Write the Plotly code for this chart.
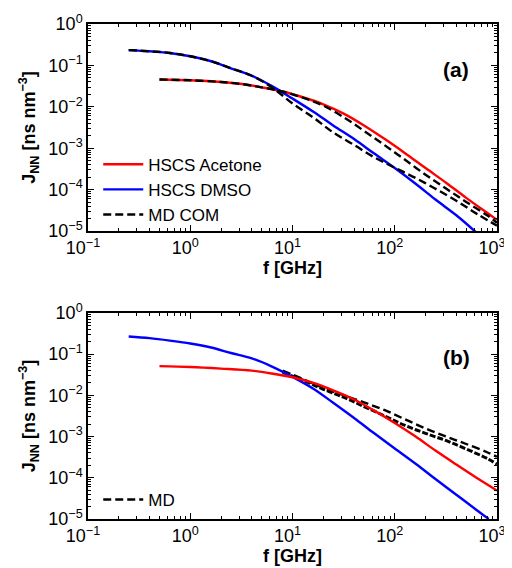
import plotly.graph_objects as go
from plotly.subplots import make_subplots

# ---------- Panel (a) ----------
f_dmso_a = [0.25, 0.4, 0.63, 1, 1.6, 2.5, 4, 6.3, 10, 16, 25, 40, 63, 100, 160, 250, 400, 630]
J_dmso_a = [0.234, 0.219, 0.200, 0.166, 0.126, 0.0851, 0.0562, 0.0316, 0.0158, 0.00759, 0.00355,
            0.00166, 0.000741, 0.000331, 0.000138, 5.75e-5, 2.40e-5, 9.1e-6]

f_acet_a = [0.5, 1, 2, 3.2, 5, 8, 12.6, 20, 32, 50, 80, 126, 200, 320, 500, 800, 1000]
J_acet_a = [0.0457, 0.0437, 0.0398, 0.0355, 0.0295, 0.0234, 0.0170, 0.0115, 0.00676, 0.00355,
            0.00166, 0.000759, 0.000331, 0.000145, 6.31e-5, 2.75e-5, 1.86e-5]

f_md_acet_a = [0.5, 1, 2, 3.2, 5, 8, 12.6, 20, 32, 50, 80, 126, 200, 320, 500, 800, 1000]
J_md_acet_a = [0.0457, 0.0437, 0.0398, 0.0355, 0.0295, 0.0234, 0.0166, 0.0107, 0.0055, 0.00263,
               0.00117, 0.000525, 0.000229, 0.000105, 5.01e-5, 2.40e-5, 1.58e-5]

f_md_dmso_a = [0.25, 0.4, 0.63, 1, 1.6, 2.5, 4, 6.3, 10, 16, 25, 40, 63, 100, 160, 250, 400, 630, 1000]
J_md_dmso_a = [0.234, 0.219, 0.200, 0.166, 0.126, 0.0851, 0.0562, 0.0295, 0.0120, 0.0055, 0.0024,
               0.0012, 0.000603, 0.000339, 0.000191, 0.000105, 5.37e-5, 2.63e-5, 1.35e-5]

# ---------- Panel (b) ----------
f_dmso_b = [0.25, 0.4, 0.63, 1, 1.6, 2.5, 4, 6.3, 10, 16, 25, 40, 63, 100, 160, 250, 400, 630, 830]
J_dmso_b = [0.269, 0.245, 0.214, 0.182, 0.145, 0.107, 0.0794, 0.0501, 0.0282, 0.0145, 0.00661,
            0.00282, 0.00120, 0.000513, 0.000219, 9.33e-5, 3.89e-5, 1.66e-5, 1.0e-5]

f_acet_b = [0.5, 1, 2, 4, 6.3, 10, 16, 25, 40, 63, 100, 160, 250, 400, 630, 1000]
J_acet_b = [0.0513, 0.049, 0.0447, 0.0398, 0.0339, 0.0275, 0.020, 0.0132, 0.00794, 0.00427,
            0.00214, 0.001, 0.000457, 0.000209, 1.0e-4, 4.9e-5]

f_md_b = [8, 12.6, 20, 32, 50, 80, 126, 200, 320, 500, 800, 1000]
J_md_upper_b = [0.0398, 0.0251, 0.0151, 0.01, 0.00676, 0.00437, 0.00263, 0.00158, 0.001,
                0.000661, 0.000417, 0.000324]
J_md_lower_b = [0.0363, 0.0234, 0.0141, 0.00891, 0.00537, 0.00316, 0.00186, 0.0012, 0.000794,
                0.000501, 0.000295, 0.000214]

x_ticks = [0.1, 1, 10, 100, 1000]
x_ticktext = ["10<sup>−1</sup>", "10<sup>0</sup>", "10<sup>1</sup>", "10<sup>2</sup>", "10<sup>3</sup>"]
y_ticks = [1e-5, 1e-4, 1e-3, 1e-2, 1e-1, 1]
y_ticktext = ["10<sup>−5</sup>", "10<sup>−4</sup>", "10<sup>−3</sup>", "10<sup>−2</sup>",
              "10<sup>−1</sup>", "10<sup>0</sup>"]
x_minor = [m * 10.0 ** e for e in range(-1, 3) for m in range(2, 10)]
y_minor = [m * 10.0 ** e for e in range(-5, 0) for m in range(2, 10)]

RED = "#ff0000"
BLUE = "#0000ff"
LW = 2.4
DASH = "8px,4px"

fig = make_subplots(rows=2, cols=1, vertical_spacing=0.1656)

# panel a
fig.add_trace(go.Scatter(x=f_acet_a, y=J_acet_a, mode="lines", line=dict(color=RED, width=LW, shape="spline"),
                         name="HSCS Acetone", legend="legend"), row=1, col=1)
fig.add_trace(go.Scatter(x=f_dmso_a, y=J_dmso_a, mode="lines", line=dict(color=BLUE, width=LW, shape="spline"),
                         name="HSCS DMSO", legend="legend"), row=1, col=1)
fig.add_trace(go.Scatter(x=f_md_acet_a, y=J_md_acet_a, mode="lines",
                         line=dict(color="black", width=LW, dash=DASH, shape="spline"),
                         name="MD COM", legend="legend"), row=1, col=1)
fig.add_trace(go.Scatter(x=f_md_dmso_a, y=J_md_dmso_a, mode="lines",
                         line=dict(color="black", width=LW, dash=DASH, shape="spline"),
                         name="MD COM", showlegend=False), row=1, col=1)

# panel b
fig.add_trace(go.Scatter(x=f_md_b, y=J_md_upper_b, mode="lines",
                         line=dict(color="black", width=LW, dash=DASH, shape="spline"),
                         name="MD", legend="legend2"), row=2, col=1)
fig.add_trace(go.Scatter(x=f_md_b, y=J_md_lower_b, mode="lines",
                         line=dict(color="black", width=LW + 0.6, dash="6px,2px", shape="spline"),
                         name="MD", showlegend=False), row=2, col=1)
fig.add_trace(go.Scatter(x=f_dmso_b, y=J_dmso_b, mode="lines", line=dict(color=BLUE, width=LW, shape="spline"),
                         name="HSCS DMSO", showlegend=False), row=2, col=1)
fig.add_trace(go.Scatter(x=f_acet_b, y=J_acet_b, mode="lines", line=dict(color=RED, width=LW, shape="spline"),
                         name="HSCS Acetone", showlegend=False), row=2, col=1)

FONT = "Liberation Sans, Arial, sans-serif"
axis_common = dict(type="log", showline=True, linecolor="black", linewidth=1.5, mirror="allticks",
                   ticks="inside", ticklen=6, tickcolor="black", showgrid=False, zeroline=False,
                   automargin=False, tickfont=dict(family=FONT, size=18, color="black"))

for r in (1, 2):
    fig.update_xaxes(axis_common, row=r, col=1, range=[-1, 3], tickvals=x_ticks, ticktext=x_ticktext,
                     ticklabelshift=-5,
                     minor=dict(tickmode="array", tickvals=x_minor, ticks="inside", ticklen=3,
                                tickcolor="black", showgrid=False),
                     title=dict(text="<b>f [GHz]</b>", font=dict(family=FONT, size=18, color="black"),
                                standoff=0))
    fig.update_yaxes(axis_common, row=r, col=1, range=[-5, 0], tickvals=y_ticks, ticktext=y_ticktext,
                     minor=dict(tickmode="array", tickvals=y_minor, ticks="inside", ticklen=3,
                                tickcolor="black", showgrid=False),
                     title=dict(text="<b>J<sub>NN</sub> [ns nm<sup>−3</sup>]</b>",
                                font=dict(family=FONT, size=18, color="black"), standoff=8))

# the page adds an 8 px body margin, so the figure is 8 px smaller than the window
fig.update_layout(
    width=504, height=560,
    margin=dict(l=80, r=15, t=16, b=49),
    paper_bgcolor="white", plot_bgcolor="white",
    font=dict(family=FONT, color="black"),
    legend=dict(x=0.025, y=0.752, xanchor="left", yanchor="top", yref="paper",
                font=dict(family=FONT, size=17, color="black"), bgcolor="rgba(0,0,0,0)",
                tracegroupgap=0, itemwidth=40),
    legend2=dict(x=0.025, y=0.075, xanchor="left", yanchor="top",
                 font=dict(family=FONT, size=17, color="black"), bgcolor="rgba(0,0,0,0)",
                 itemwidth=40),
    annotations=[
        dict(text="<b>(a)</b>", x=0.9, y=0.909, xref="paper", yref="paper", showarrow=False,
             xanchor="center", yanchor="middle", font=dict(family=FONT, size=21, color="black")),
        dict(text="<b>(b)</b>", x=0.9, y=0.327, xref="paper", yref="paper", showarrow=False,
             xanchor="center", yanchor="middle", font=dict(family=FONT, size=21, color="black")),
    ],
)
fig.update_yaxes(domain=[0.5818, 1.0], row=1, col=1)
fig.update_yaxes(domain=[0.0, 0.4162], row=2, col=1)

fig.write_html("out.html")
